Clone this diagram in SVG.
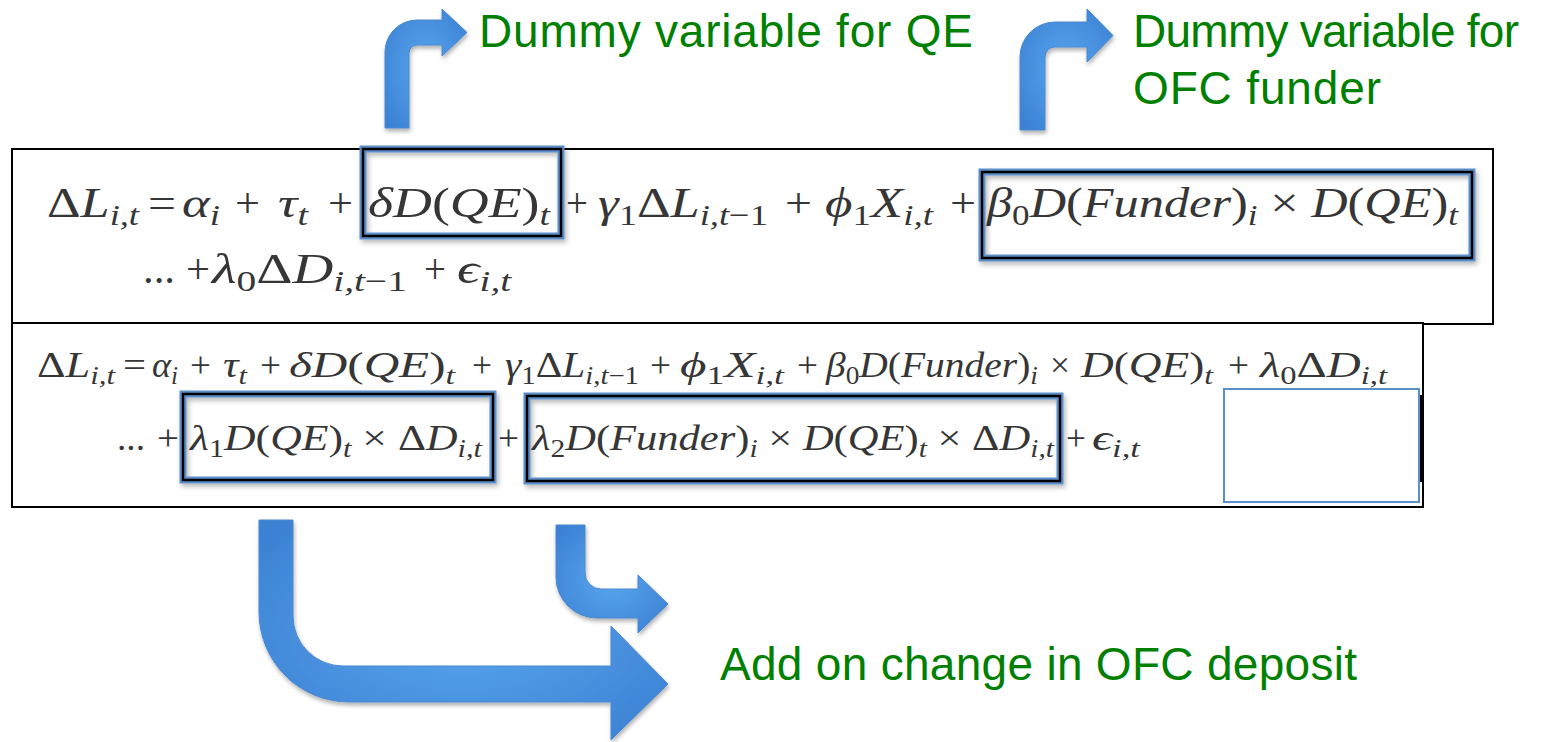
<svg xmlns="http://www.w3.org/2000/svg" width="1563" height="742" viewBox="0 0 1563 742">
  <defs>
    <radialGradient id="blueFill" cx="50%" cy="50%" r="65%">
      <stop offset="0" stop-color="#5aa6ef"/>
      <stop offset="1" stop-color="#3b81d3"/>
    </radialGradient>
    <filter id="shadow" x="-15%" y="-15%" width="140%" height="140%">
      <feDropShadow dx="1" dy="3" stdDeviation="2" flood-color="#000" flood-opacity="0.3"/>
    </filter>
    <filter id="boxShadow" x="-5%" y="-10%" width="115%" height="130%">
      <feDropShadow dx="2" dy="3" stdDeviation="2.5" flood-color="#000" flood-opacity="0.28"/>
    </filter>
  </defs>
  <style>
    .arrow{fill:url(#blueFill);stroke:#4a88cf;stroke-width:1;filter:url(#shadow)}
    .label{font-family:"Liberation Sans",Arial,sans-serif;font-size:46px;fill:#008000}
    .frame{fill:#fff;stroke:#000;stroke-width:2}
    .m{font-family:"Liberation Serif","DejaVu Serif",serif;fill:#363636}
    .b1{font-size:43px}
    .b2{font-size:36px}
    .i{font-style:italic}
    .s1{font-size:30px;baseline-shift:-8px}
    .s2{font-size:25px;baseline-shift:-7px}
    .hl{filter:url(#boxShadow)}
    .hl-outer{fill:none;stroke:#5b8fc9;stroke-width:7}
    .hl-inner{fill:none;stroke:#000;stroke-width:2.5}
    .empty{fill:none;stroke:#5a8fcb;stroke-width:2}
  </style>

  <rect width="1563" height="742" fill="#fff"/>

  <!-- base regression -->
  <g id="eq-base">
    <rect class="frame" x="12" y="149" width="1481" height="175"/>
    <g class="m b1">
      <text x="47" y="217" textLength="92" lengthAdjust="spacingAndGlyphs">Δ<tspan class="i">L</tspan><tspan class="s1 i">i,t</tspan></text>
      <text x="148" y="217" textLength="28" lengthAdjust="spacingAndGlyphs">=</text>
      <text x="182" y="217" textLength="38" lengthAdjust="spacingAndGlyphs"><tspan class="i">α</tspan><tspan class="s1 i">i</tspan></text>
      <text x="235" y="217" textLength="25" lengthAdjust="spacingAndGlyphs">+</text>
      <text x="278" y="217" textLength="30" lengthAdjust="spacingAndGlyphs"><tspan class="i">τ</tspan><tspan class="s1 i">t</tspan></text>
      <text x="328" y="217" textLength="25" lengthAdjust="spacingAndGlyphs">+</text>
      <text x="368" y="217" textLength="182" lengthAdjust="spacingAndGlyphs"><tspan class="i">δD</tspan>(<tspan class="i">QE</tspan>)<tspan class="s1 i">t</tspan></text>
      <text x="566" y="217" textLength="22" lengthAdjust="spacingAndGlyphs">+</text>
      <text x="598" y="217" textLength="170" lengthAdjust="spacingAndGlyphs"><tspan class="i">γ</tspan><tspan class="s1">1</tspan>Δ<tspan class="i">L</tspan><tspan class="s1"><tspan class="i">i,t</tspan>−1</tspan></text>
      <text x="785" y="217" textLength="27" lengthAdjust="spacingAndGlyphs">+</text>
      <text x="825" y="217" textLength="108" lengthAdjust="spacingAndGlyphs"><tspan class="i">ϕ</tspan><tspan class="s1">1</tspan><tspan class="i">X</tspan><tspan class="s1 i">i,t</tspan></text>
      <text x="950" y="217" textLength="26" lengthAdjust="spacingAndGlyphs">+</text>
      <text x="987" y="217" textLength="471" lengthAdjust="spacingAndGlyphs"><tspan class="i">β</tspan><tspan class="s1">0</tspan><tspan class="i">D</tspan>(<tspan class="i">Funder</tspan>)<tspan class="s1 i">i</tspan> × <tspan class="i">D</tspan>(<tspan class="i">QE</tspan>)<tspan class="s1 i">t</tspan></text>

      <text x="143" y="283" textLength="32" lengthAdjust="spacingAndGlyphs">...</text>
      <text x="186" y="283" textLength="24" lengthAdjust="spacingAndGlyphs">+</text>
      <text x="212" y="283" textLength="195" lengthAdjust="spacingAndGlyphs"><tspan class="i">λ</tspan><tspan class="s1">0</tspan>Δ<tspan class="i">D</tspan><tspan class="s1"><tspan class="i">i,t</tspan>−1</tspan></text>
      <text x="424" y="283" textLength="22" lengthAdjust="spacingAndGlyphs">+</text>
      <text x="457" y="283" textLength="54" lengthAdjust="spacingAndGlyphs"><tspan class="i">ϵ</tspan><tspan class="s1 i">i,t</tspan></text>
    </g>
  </g>

  <!-- extended regression with deposit interactions -->
  <g id="eq-extended">
    <rect class="frame" x="12" y="323" width="1411" height="184"/>
    <rect x="1420" y="395" width="4" height="87" fill="#000"/>
    <g class="m b2">
      <text x="37" y="377" textLength="78" lengthAdjust="spacingAndGlyphs">Δ<tspan class="i">L</tspan><tspan class="s2 i">i,t</tspan></text>
      <text x="123" y="377" textLength="23" lengthAdjust="spacingAndGlyphs">=</text>
      <text x="152" y="377" textLength="26" lengthAdjust="spacingAndGlyphs"><tspan class="i">α</tspan><tspan class="s2 i">i</tspan></text>
      <text x="190" y="377" textLength="21" lengthAdjust="spacingAndGlyphs">+</text>
      <text x="223" y="377" textLength="24" lengthAdjust="spacingAndGlyphs"><tspan class="i">τ</tspan><tspan class="s2 i">t</tspan></text>
      <text x="260" y="377" textLength="21" lengthAdjust="spacingAndGlyphs">+</text>
      <text x="289" y="377" textLength="166" lengthAdjust="spacingAndGlyphs"><tspan class="i">δD</tspan>(<tspan class="i">QE</tspan>)<tspan class="s2 i">t</tspan></text>
      <text x="472" y="377" textLength="20" lengthAdjust="spacingAndGlyphs">+</text>
      <text x="505" y="377" textLength="134" lengthAdjust="spacingAndGlyphs"><tspan class="i">γ</tspan><tspan class="s2">1</tspan>Δ<tspan class="i">L</tspan><tspan class="s2"><tspan class="i">i,t</tspan>−1</tspan></text>
      <text x="650" y="377" textLength="21" lengthAdjust="spacingAndGlyphs">+</text>
      <text x="680" y="377" textLength="104" lengthAdjust="spacingAndGlyphs"><tspan class="i">ϕ</tspan><tspan class="s2">1</tspan><tspan class="i">X</tspan><tspan class="s2 i">i,t</tspan></text>
      <text x="797" y="377" textLength="21" lengthAdjust="spacingAndGlyphs">+</text>
      <text x="826" y="377" textLength="212" lengthAdjust="spacingAndGlyphs"><tspan class="i">β</tspan><tspan class="s2">0</tspan><tspan class="i">D</tspan>(<tspan class="i">Funder</tspan>)<tspan class="s2 i">i</tspan></text>
      <text x="1050" y="377" textLength="20" lengthAdjust="spacingAndGlyphs">×</text>
      <text x="1081" y="377" textLength="132" lengthAdjust="spacingAndGlyphs"><tspan class="i">D</tspan>(<tspan class="i">QE</tspan>)<tspan class="s2 i">t</tspan></text>
      <text x="1228" y="377" textLength="21" lengthAdjust="spacingAndGlyphs">+</text>
      <text x="1260" y="377" textLength="127" lengthAdjust="spacingAndGlyphs"><tspan class="i">λ</tspan><tspan class="s2">0</tspan>Δ<tspan class="i">D</tspan><tspan class="s2 i">i,t</tspan></text>

      <text x="117" y="450" textLength="28" lengthAdjust="spacingAndGlyphs">...</text>
      <text x="157" y="450" textLength="22" lengthAdjust="spacingAndGlyphs">+</text>
      <text x="190" y="450" textLength="292" lengthAdjust="spacingAndGlyphs"><tspan class="i">λ</tspan><tspan class="s2">1</tspan><tspan class="i">D</tspan>(<tspan class="i">QE</tspan>)<tspan class="s2 i">t</tspan> × Δ<tspan class="i">D</tspan><tspan class="s2 i">i,t</tspan></text>
      <text x="498" y="450" textLength="21" lengthAdjust="spacingAndGlyphs">+</text>
      <text x="532" y="450" textLength="522" lengthAdjust="spacingAndGlyphs"><tspan class="i">λ</tspan><tspan class="s2">2</tspan><tspan class="i">D</tspan>(<tspan class="i">Funder</tspan>)<tspan class="s2 i">i</tspan> × <tspan class="i">D</tspan>(<tspan class="i">QE</tspan>)<tspan class="s2 i">t</tspan> × Δ<tspan class="i">D</tspan><tspan class="s2 i">i,t</tspan></text>
      <text x="1066" y="450" textLength="20" lengthAdjust="spacingAndGlyphs">+</text>
      <text x="1092" y="450" textLength="48" lengthAdjust="spacingAndGlyphs"><tspan class="i">ϵ</tspan><tspan class="s2 i">i,t</tspan></text>
    </g>
    <rect class="empty" x="1224" y="389" width="195" height="113"/>
  </g>

  <!-- highlighted terms -->
  <g id="hl-qe" class="hl">
    <rect class="hl-outer" x="363" y="149" width="198" height="87"/>
    <rect class="hl-inner" x="363" y="149" width="198" height="87"/>
  </g>
  <g id="hl-funder" class="hl">
    <rect class="hl-outer" x="982" y="172" width="490" height="86"/>
    <rect class="hl-inner" x="982" y="172" width="490" height="86"/>
  </g>
  <g id="hl-lambda1" class="hl">
    <rect class="hl-outer" x="183" y="394" width="310" height="86"/>
    <rect class="hl-inner" x="183" y="394" width="310" height="86"/>
  </g>
  <g id="hl-lambda2" class="hl">
    <rect class="hl-outer" x="527" y="396" width="533" height="85"/>
    <rect class="hl-inner" x="527" y="396" width="533" height="85"/>
  </g>

  <!-- annotations -->
  <g id="label-qe">
    <text class="label" x="479" y="47" textLength="494" lengthAdjust="spacing">Dummy variable for QE</text>
  </g>
  <g id="label-funder">
    <text class="label" x="1133" y="47" textLength="386" lengthAdjust="spacing">Dummy variable for</text>
    <text class="label" x="1133" y="104" textLength="248" lengthAdjust="spacing">OFC funder</text>
  </g>
  <g id="label-deposit">
    <text class="label" x="720" y="680" textLength="637" lengthAdjust="spacing">Add on change in OFC deposit</text>
  </g>

  <!-- bent arrows -->
  <g id="connectors">
    <path class="arrow" d="M385,128 L385,52 A32,32 0 0 1 417,20 L442,20 L442,9 L467,32.5 L442,56 L442,45 L417,45 A8,8 0 0 0 409,53 L409,128 Z"/>
    <path class="arrow" d="M1020,130 L1020,57 A35,35 0 0 1 1055,22 L1087,22 L1087,9 L1113,35.5 L1087,62 L1087,47 L1055,47 A10,10 0 0 0 1045,57 L1045,130 Z"/>
    <path class="arrow" d="M259,520 L293,520 L293,616 A50,50 0 0 0 343,666 L611,666 L611,626 L668,684 L611,740 L611,702 L349,702 A90,90 0 0 1 259,612 Z"/>
    <path class="arrow" d="M556,525 L585,525 L585,573 A16,16 0 0 0 601,589 L638,589 L638,575 L668,604 L638,633 L638,618 L597,618 A41,41 0 0 1 556,577 Z"/>
  </g>
</svg>
